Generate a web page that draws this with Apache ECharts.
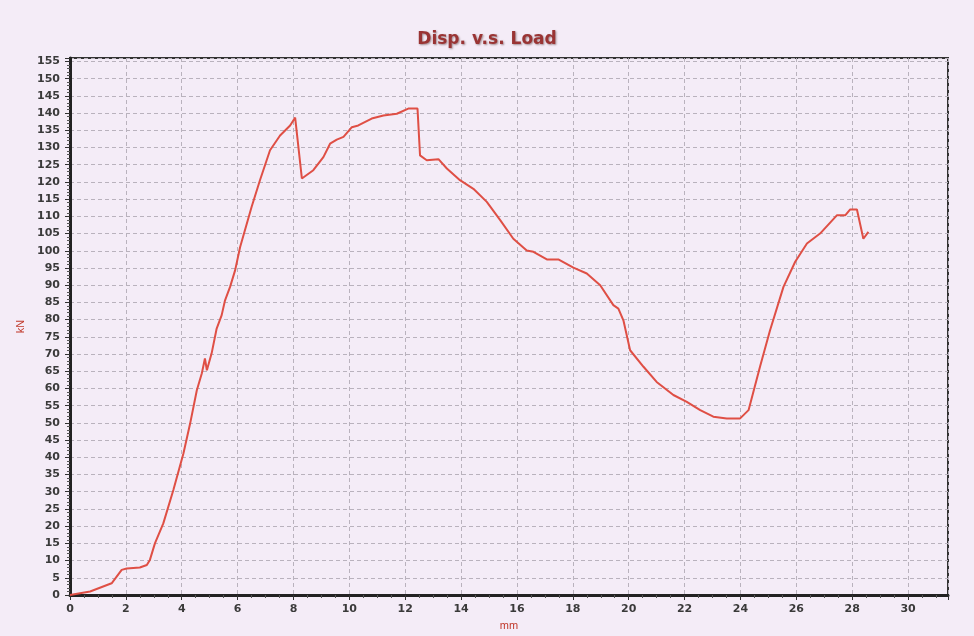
<!DOCTYPE html>
<html>
<head>
<meta charset="utf-8">
<script src="https://cdn.jsdelivr.net/npm/echarts@6/dist/echarts.min.js"></script>
<style>
  html, body { margin: 0; padding: 0; background: #f4ecf7; }
  #chart { width: 974px; height: 636px; }
</style>
</head>
<body>
<div id="chart"></div>
<script>
// Displacement (mm) and load (kN) samples of the test record
const dispMm = [0, 0.72, 1.49, 1.85, 2.03, 2.5, 2.75, 2.86, 3.04, 3.34, 3.7, 4.06, 4.3, 4.54, 4.72, 4.83, 4.9, 5.07, 5.25, 5.43, 5.55, 5.73, 5.91, 6.09, 6.5, 6.8, 7.16, 7.52, 7.88, 8.06, 8.3, 8.71, 9.07, 9.31, 9.55, 9.79, 10.09, 10.32, 10.8, 11.22, 11.7, 12.11, 12.44, 12.53, 12.77, 13.19, 13.49, 13.96, 14.44, 14.92, 15.4, 15.87, 16.35, 16.59, 17.07, 17.48, 18.02, 18.5, 18.98, 19.45, 19.63, 19.81, 20.05, 20.53, 21.0, 21.6, 22.08, 22.56, 23.03, 23.51, 23.99, 24.29, 24.7, 25.06, 25.54, 25.96, 26.38, 26.85, 27.45, 27.75, 27.93, 28.17, 28.4, 28.58];
const loadKn = [0, 1, 3.4, 7.3, 7.7, 8, 8.7, 10.2, 15, 20.8, 30.5, 41.1, 49.8, 59.5, 64.4, 68.7, 65.3, 70.2, 77.4, 81.3, 85.6, 89.5, 94.3, 101.1, 112.7, 120.5, 129.2, 133.5, 136.4, 138.7, 121, 123.4, 127.2, 131.1, 132.3, 133.1, 135.9, 136.4, 138.4, 139.3, 139.8, 141.3, 141.3, 127.7, 126.3, 126.6, 123.9, 120.5, 118, 114.2, 108.9, 103.5, 100.1, 99.7, 97.5, 97.5, 95.1, 93.4, 90, 84.2, 83.2, 79.8, 71.1, 66.3, 61.9, 58.1, 56.1, 53.7, 51.8, 51.3, 51.3, 53.7, 66.3, 76.9, 89.5, 96.8, 102.1, 105, 110.3, 110.3, 112, 112, 103.5, 105.5];

// Axis ranges and tick steps
const xRange = [0, 31.43];
const xStep = 2;
const yRange = [0, 156];
const yStep = 5;

const points = dispMm.map((d, i) => [d, loadKn[i]]);

const labelFont = {
  fontFamily: 'DejaVu Sans',
  fontWeight: 'bold',
  fontSize: 11,
  color: '#3a3a3a'
};

const chart = echarts.init(document.getElementById('chart'));
chart.setOption({
  backgroundColor: '#f4ecf7',
  animation: false,
  title: {
    text: 'Disp. v.s. Load',
    left: 'center',
    top: 26,
    textStyle: {
      fontFamily: 'DejaVu Sans',
      fontWeight: 'bold',
      fontSize: 17,
      color: '#9a3434',
      textShadowColor: 'rgba(60,20,20,0.45)',
      textShadowBlur: 2,
      textShadowOffsetX: 1,
      textShadowOffsetY: 1
    }
  },
  grid: {
    left: 70, right: 26, top: 58, bottom: 41,
    show: true,
    borderColor: '#333',
    borderWidth: 2,
    backgroundColor: 'transparent'
  },
  xAxis: {
    type: 'value',
    min: xRange[0], max: xRange[1], interval: xStep,
    name: 'mm',
    nameLocation: 'middle',
    nameGap: 25,
    nameTextStyle: { color: '#c0392b', fontFamily: 'Liberation Sans', fontSize: 11 },
    axisLine: { lineStyle: { color: '#222', width: 3 } },
    axisTick: { length: 5, lineStyle: { color: '#333', width: 1 } },
    minorTick: { show: true, splitNumber: 4, length: 3, lineStyle: { color: '#555' } },
    axisLabel: Object.assign({ margin: 9, showMaxLabel: false }, labelFont),
    splitLine: { show: true, lineStyle: { color: '#b9b2bd', type: [4, 3], width: 1 } }
  },
  yAxis: {
    type: 'value',
    min: yRange[0], max: yRange[1], interval: yStep,
    name: 'kN',
    nameLocation: 'middle',
    nameGap: 44,
    nameTextStyle: { color: '#c0392b', fontFamily: 'Liberation Sans', fontSize: 11 },
    axisLine: { show: true, lineStyle: { color: '#222', width: 3 } },
    axisTick: { show: true, length: 5, lineStyle: { color: '#333', width: 1 } },
    minorTick: { show: true, splitNumber: 5, length: 3, lineStyle: { color: '#555' } },
    axisLabel: Object.assign({ margin: 10, showMaxLabel: false }, labelFont),
    splitLine: { show: true, lineStyle: { color: '#b9b2bd', type: [4, 3], width: 1 } }
  },
  series: [{
    type: 'line',
    data: points,
    showSymbol: false,
    smooth: false,
    lineStyle: { color: '#df4f45', width: 2 },
    itemStyle: { color: '#df4f45' }
  }]
});
</script>
</body>
</html>
